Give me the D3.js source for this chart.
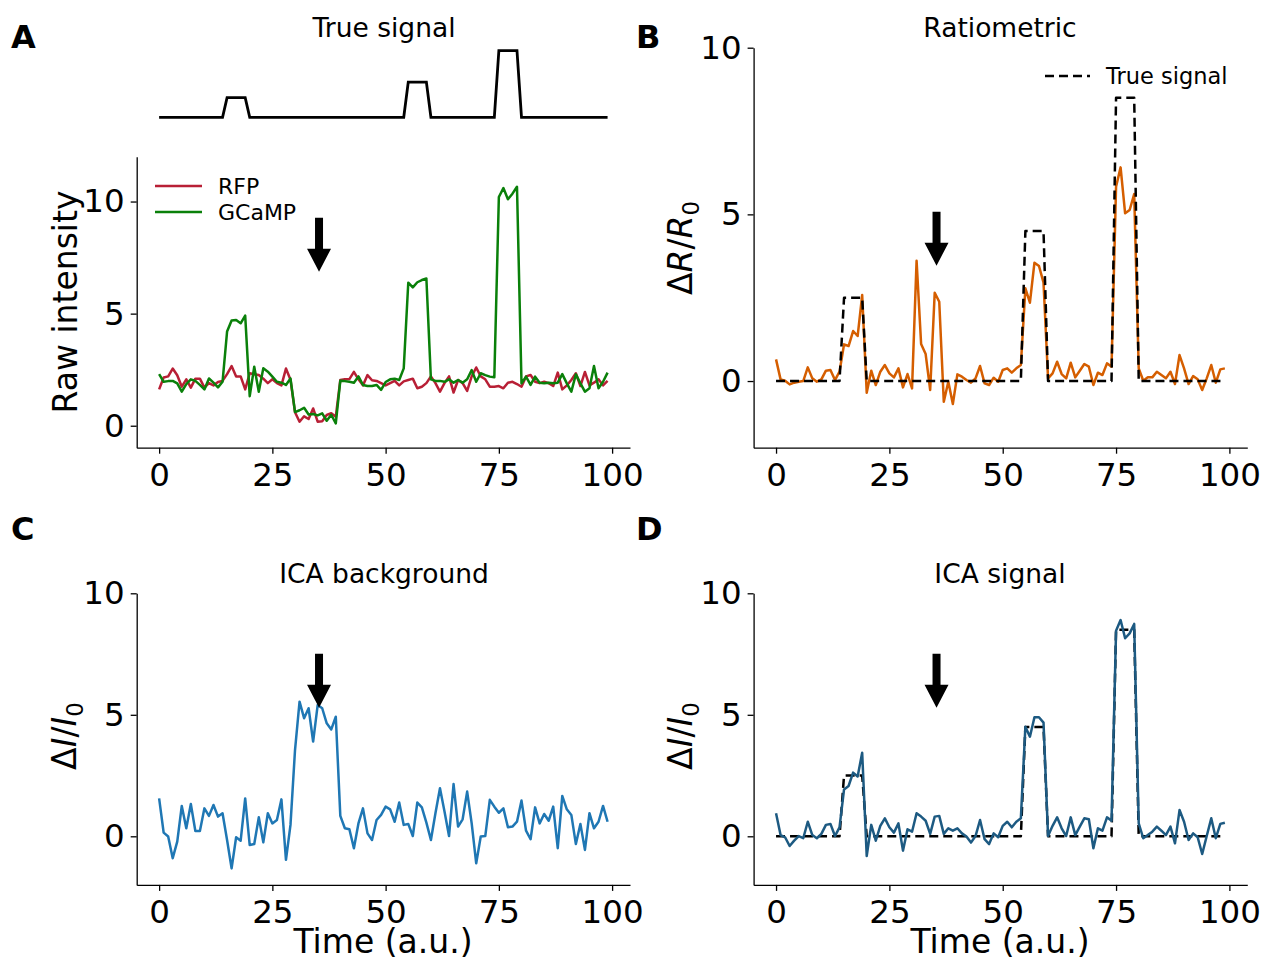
<!DOCTYPE html>
<html>
<head>
<meta charset="utf-8">
<script src="https://cdn.jsdelivr.net/npm/d3@7"></script>
<style>
  body { margin: 0; background: #fff; }
  svg { font-family: "DejaVu Sans", sans-serif; }
</style>
</head>
<body>
<div id="chart"></div>
<script>
// four panels: raw traces, ratiometric, ICA background, ICA signal

const width = 1263, height = 958;

// time points 0..99
const time = d3.range(100);

const trueSignal = [0,0,0,0,0,0,0,0,0,0, 0,0,0,0,0,2.5,2.5,2.5,2.5,2.5,
  0,0,0,0,0,0,0,0,0,0, 0,0,0,0,0,0,0,0,0,0,
  0,0,0,0,0,0,0,0,0,0, 0,0,0,0,0,4.5,4.5,4.5,4.5,4.5,
  0,0,0,0,0,0,0,0,0,0, 0,0,0,0,0,8.5,8.5,8.5,8.5,8.5,
  0,0,0,0,0,0,0,0,0,0, 0,0,0,0,0,0,0,0,0,0];

const rfp = [1.62,2.15,2.2,2.55,2.25,1.74,2.07,1.7,2.1,2.1, 1.7,1.9,1.8,1.95,2.0,2.3,2.66,2.2,2.2,1.62,
  2.34,2.3,2.26,2.1,1.9,2.07,1.9,1.8,2.55,2.05, 0.6,0.18,0.42,0.3,0.77,0.18,0.2,0.48,0.56,0.4,
  2.04,2.07,2.08,2.4,2.07,1.8,2.26,2.03,2.0,1.9, 1.8,1.9,2.0,1.8,1.98,2.04,2.1,1.67,1.74,1.9,
  2.2,1.9,1.52,1.9,2.2,1.48,2.04,1.9,1.55,2.2, 2.6,2.2,2.07,1.74,1.74,1.77,1.67,1.92,1.96,1.86,
  1.74,2.2,2.26,1.96,1.9,1.96,1.9,1.77,2.37,1.62, 1.8,2.04,2.34,1.77,2.4,1.8,1.92,2.07,1.8,2.0];

const gcamp = [2.3,1.96,1.99,2.0,1.89,1.52,1.86,2.07,2.0,1.82, 1.62,2.11,1.92,1.71,1.96,4.2,4.69,4.72,4.57,4.91,
  1.32,2.63,1.52,2.56,2.41,2.19,1.96,1.92,1.82,2.11, 0.61,0.69,0.8,0.5,0.52,0.46,0.55,0.22,0.49,0.1,
  2.01,1.99,1.96,1.92,2.2,1.82,1.77,1.77,1.82,1.6, 1.95,2.07,2.1,2.04,2.56,6.38,6.17,6.4,6.5,6.57,
  2.07,2.0,2.0,1.96,2.07,1.92,2.04,1.92,2.07,2.48, 1.96,2.34,2.26,2.19,2.16,10.2,10.6,10.1,10.35,10.66,
  1.89,2.19,1.82,2.19,1.92,1.89,1.92,1.89,1.92,2.3, 1.89,1.52,2.29,1.89,1.52,1.67,2.66,1.67,1.96,2.37];

const ratio = [0.65,0.05,0.01,-0.1,-0.05,-0.02,0,0.41,0.08,-0.02, 0.05,0.31,0.33,0.03,0.28,1.1,1.05,1.5,1.35,2.58,
  -0.35,0.31,-0.12,0.28,0.48,0.23,0.11,0.38,-0.19,0.21, -0.22,3.61,1.11,0.81,-0.27,2.65,2.38,-0.62,-0.02,-0.69,
  0.2,0.13,0.03,-0.05,0.08,0.45,-0.07,-0.12,0.1,-0.02, 0.33,0.38,0.25,0.38,0.48,2.78,2.35,3.55,3.45,2.95,
  0.08,0.23,0.58,0.21,0.08,0.55,0.11,0.31,0.51,0.43, -0.12,0.25,0.18,0.53,0.43,5.83,6.41,5.03,5.13,5.61,
  0.38,0.01,0.11,0.11,0.28,0.18,0.08,0.28,-0.09,0.78, 0.38,-0.09,0.15,0.05,-0.27,0.08,0.48,-0.05,0.35,0.38];

const icaBackground = [1.56,0.15,-0.01,-0.9,-0.22,1.25,0.33,1.33,0.22,0.22, 1.15,0.84,1.29,0.81,0.95,-0.15,-1.32,-0.04,-0.18,1.56,
  -0.36,-0.32,0.78,-0.25,0.95,0.53,0.67,1.52,-0.97,0.47, 3.55,5.54,4.86,5.27,3.9,5.4,5.27,4.65,4.4,4.92,
  0.84,0.33,0.29,-0.49,0.53,1.15,0.12,-0.15,0.67,0.88, 1.22,1.11,0.6,1.39,0.47,0.51,0.01,1.39,1.19,0.56,
  -0.15,0.95,1.98,1.02,0.01,2.15,0.4,0.7,1.84,0.53, -1.11,-0.01,0.01,1.5,1.22,0.97,1.15,0.37,0.4,0.6,
  1.47,0.23,-0.12,1.19,0.53,0.92,0.64,1.22,-0.49,1.66, 1.11,0.88,-0.32,0.51,-0.56,0.95,0.33,0.6,1.25,0.6];

const icaSignal = [0.95,0.05,-0.04,-0.4,-0.18,0.01,-0.08,0.6,0.05,-0.08, 0.1,0.47,0.51,0.01,0.37,1.93,2.07,2.62,2.46,3.44,
  -0.81,0.47,-0.18,0.43,0.74,0.37,0.15,0.53,-0.59,0.29, 0.19,0.95,0.81,0.64,0.1,0.81,0.84,0.1,0.33,0.23,
  0.33,0.12,-0.01,-0.26,0.01,0.67,-0.12,-0.32,0.12,-0.04, 0.43,0.6,0.37,0.6,0.74,4.51,4.1,4.9,4.9,4.68,
  0.01,0.43,0.78,0.33,0.01,0.78,0.05,0.4,0.74,0.7, -0.49,0.33,0.23,0.78,0.64,8.46,8.9,8.15,8.35,8.74,
  0.53,-0.08,0.05,0.19,0.4,0.23,0.05,0.4,-0.29,1.08, 0.6,-0.15,0.12,-0.04,-0.73,0.01,0.74,-0.08,0.51,0.56];

const xTicks = [0, 25, 50, 75, 100];
const yTicksRaw = [0, 5, 10];
const yTicksNorm = [0, 5, 10];

// arrow tips in data coordinates (x, y) for A, B, C, D
const arrowTips = [[35.3, 6.87], [35.4, 3.46], [35.3, 5.29], [35.4, 5.29]];

const svg = d3.select("#chart")
  .append("svg")
  .attr("width", width)
  .attr("height", height)
  .attr("viewBox", [0, 0, width, height]);

const tickFont = 32.5;
const labelFont = 33;
const lw = 2.5;

// builds one axes box with left/bottom spines
function panel(opts) {
  const x = d3.scaleLinear().domain([-4.95, 103.95]).range([opts.left, opts.right]);
  const y = d3.scaleLinear().domain(opts.ylim).range([opts.bottom, opts.top]);
  const g = svg.append("g");

  const ax = g.append("g")
    .attr("transform", `translate(0,${opts.bottom})`)
    .call(d3.axisBottom(x).tickValues(xTicks).tickSize(6).tickSizeOuter(0).tickPadding(9));
  const ay = g.append("g")
    .attr("transform", `translate(${opts.left},0)`)
    .call(d3.axisLeft(y).tickValues(opts.yticks).tickSize(6).tickSizeOuter(0).tickPadding(6));

  [ax, ay].forEach(a => {
    a.select(".domain").attr("stroke", "#000").attr("stroke-width", 1.3);
    a.selectAll(".tick line").attr("stroke", "#000").attr("stroke-width", 1.3);
    a.selectAll(".tick text")
      .attr("fill", "#000")
      .style("font-size", tickFont + "px")
      .style("font-family", "DejaVu Sans");
  });
  return { g, x, y };
}

function drawLine(p, values, color, dash) {
  const line = d3.line().x((d, i) => p.x(time[i])).y(d => p.y(d));
  p.g.append("path")
    .datum(values)
    .attr("fill", "none")
    .attr("stroke", color)
    .attr("stroke-width", lw)
    .attr("stroke-dasharray", dash || null)
    .attr("stroke-linejoin", "round")
    .attr("d", line);
}

function drawArrow(p, tip) {
  const tx = p.x(tip[0]), ty = p.y(tip[1]);
  const pts = [[0, 0], [-12, -23], [-4, -23], [-4, -54], [4, -54], [4, -23], [12, -23]];
  p.g.append("polygon")
    .attr("points", pts.map(q => [tx + q[0], ty + q[1]].join(",")).join(" "))
    .attr("fill", "#000");
}

function title(text, cx, y) {
  svg.append("text").attr("x", cx).attr("y", y)
    .attr("text-anchor", "middle")
    .style("font-size", "26.5px")
    .text(text);
}

function letter(text, x, y) {
  svg.append("text").attr("x", x).attr("y", y)
    .style("font-size", "32px").style("font-weight", "bold")
    .text(text);
}

// rotated mathtext-like y label: Δ A / A_0
function mathLabel(cx, cy, sym) {
  const t = svg.append("text")
    .attr("transform", `translate(${cx},${cy}) rotate(-90)`)
    .attr("text-anchor", "middle")
    .style("font-size", labelFont + "px");
  t.append("tspan").text("Δ");
  t.append("tspan").style("font-style", "italic").text(sym);
  t.append("tspan").text("/");
  t.append("tspan").style("font-style", "italic").text(sym);
  t.append("tspan").attr("dy", 7).style("font-size", "23px").text("0");
}

// ---- Panel A: true signal (no axes) ----
const xTop = d3.scaleLinear().domain([-4.95, 103.95]).range([136.7, 630]);
const yTop = d3.scaleLinear().domain([0, 8.5]).range([117.3, 50.7]);
svg.append("path")
  .datum(trueSignal)
  .attr("fill", "none")
  .attr("stroke", "#000")
  .attr("stroke-width", 2.8)
  .attr("d", d3.line().x((d, i) => xTop(time[i])).y(d => yTop(d)));
title("True signal", 384, 37);

// ---- Panel A: raw traces ----
const pA = panel({ left: 136.7, right: 630, top: 156.7, bottom: 447.7, ylim: [-0.98, 12.0], yticks: yTicksRaw });
drawLine(pA, rfp, "#b81f35");
drawLine(pA, gcamp, "#0a800a");
drawArrow(pA, arrowTips[0]);
svg.append("text")
  .attr("transform", "translate(77,302) rotate(-90)")
  .attr("text-anchor", "middle")
  .style("font-size", labelFont + "px")
  .text("Raw intensity");

const legA = [["RFP", "#b81f35", 186], ["GCaMP", "#0a800a", 212]];
legA.forEach(l => {
  svg.append("line").attr("x1", 155).attr("x2", 202).attr("y1", l[2]).attr("y2", l[2])
    .attr("stroke", l[1]).attr("stroke-width", lw);
  svg.append("text").attr("x", 218).attr("y", l[2] + 8).style("font-size", "22px").text(l[0]);
});

// ---- Panel B: ratiometric ----
const pB = panel({ left: 753.6, right: 1247.3, top: 47.7, bottom: 447.7, ylim: [-2, 10], yticks: yTicksNorm });
drawLine(pB, ratio, "#d55e00");
drawLine(pB, trueSignal, "#000", "9,5");
drawArrow(pB, arrowTips[1]);
title("Ratiometric", 1000, 37);
mathLabel(692, 248, "R");
svg.append("line").attr("x1", 1045).attr("x2", 1090).attr("y1", 76).attr("y2", 76)
  .attr("stroke", "#000").attr("stroke-width", lw).attr("stroke-dasharray", "9,5");
svg.append("text").attr("x", 1106).attr("y", 84).style("font-size", "22.5px").text("True signal");

// ---- Panel C: ICA background ----
const pC = panel({ left: 136.7, right: 630, top: 593.3, bottom: 884.9, ylim: [-2, 10], yticks: yTicksNorm });
drawLine(pC, icaBackground, "#1f77b4");
drawArrow(pC, arrowTips[2]);
title("ICA background", 384, 583);
mathLabel(76, 736, "I");

// ---- Panel D: ICA signal ----
const pD = panel({ left: 753.6, right: 1247.3, top: 593.3, bottom: 884.9, ylim: [-2, 10], yticks: yTicksNorm });
drawLine(pD, trueSignal, "#000", "9,5");
drawLine(pD, icaSignal, "#1d5a82");
drawArrow(pD, arrowTips[3]);
title("ICA signal", 1000, 583);
mathLabel(692, 736, "I");

// x labels
[383, 1000].forEach(cx => {
  svg.append("text").attr("x", cx).attr("y", 953)
    .attr("text-anchor", "middle").style("font-size", labelFont + "px").text("Time (a.u.)");
});

letter("A", 11, 48);
letter("B", 636, 48);
letter("C", 11, 540);
letter("D", 636, 540);
</script>
</body>
</html>
